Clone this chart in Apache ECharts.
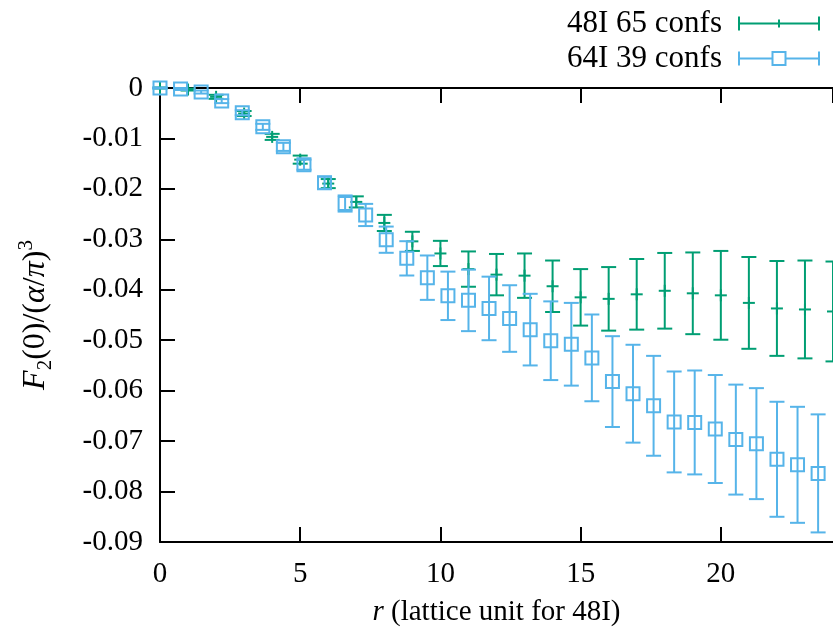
<!DOCTYPE html>
<html>
<head>
<meta charset="utf-8">
<script src="https://cdn.jsdelivr.net/npm/echarts@6/dist/echarts.min.js"></script>
<style>
html,body{margin:0;padding:0;background:#fff;}
#chart{width:833px;height:640px;}
</style>
</head>
<body>
<div id="chart"></div>
<script>
// ---- data ----
const seriesNames = ['48I 65 confs', '64I 39 confs'];

const x48 = [0,1,2,3,4,5,6,7,8,9,10,11,12,13,14,15,16,17,18,19,20,21,22,23,24];
const y48 = [0,-0.0003,-0.00175,-0.00506,-0.00969,-0.0142,-0.01895,-0.02258,-0.02675,-0.0304,
             -0.0328,-0.0359,-0.0370,-0.0372,-0.0393,-0.0415,-0.0418,-0.0409,-0.0402,-0.0407,
             -0.0411,-0.0426,-0.0437,-0.0439,-0.0443];
const e48 = [0.0001,0.0002,0.0004,0.0005,0.0006,0.0008,0.0009,0.0011,0.0016,0.0019,
             0.0025,0.0035,0.0041,0.0044,0.0051,0.0056,0.0063,0.0070,0.0075,0.0081,
             0.0088,0.0091,0.0094,0.0097,0.0099];

const x64 = [0,0.733,1.467,2.200,2.934,3.667,4.400,5.134,5.867,6.601,7.334,8.067,8.801,9.534,
             10.268,11.001,11.734,12.468,13.201,13.935,14.668,15.401,16.135,16.868,17.602,
             18.335,19.068,19.802,20.535,21.269,22.002,22.735,23.469];
const y64 = [0,-0.0002,-0.0008,-0.0026,-0.0049,-0.0077,-0.01167,-0.0152,-0.0188,-0.0229,
             -0.02517,-0.03007,-0.03377,-0.0376,-0.0412,-0.0421,-0.0437,-0.0457,-0.0479,-0.0501,
             -0.0508,-0.0535,-0.0582,-0.0606,-0.0630,-0.0662,-0.0663,-0.0676,-0.0697,-0.0705,
             -0.0736,-0.0747,-0.0764];
const e64 = [0.0001,0.0002,0.0003,0.0004,0.0005,0.0006,0.0008,0.0010,0.0012,0.0016,
             0.0022,0.0026,0.0034,0.0044,0.0048,0.0061,0.0063,0.0066,0.0071,0.0078,
             0.0082,0.0086,0.0090,0.0097,0.0099,0.0100,0.0103,0.0107,0.0109,0.0110,
             0.0114,0.0115,0.0117];

const xTicks = {min: 0, max: 24, interval: 5};
const yTicks = {min: -0.09, max: 0, interval: 0.01};

// ---- styling ----
const GREEN = '#009e73';
const BLUE = '#56b4e9';
const FONT = 'Liberation Serif';

function rows(xs, ys, es) { return xs.map((x, i) => [x, ys[i], es[i]]); }

function makeRender(color, marker) {
  return function (params, api) {
    const x = api.value(0), y = api.value(1), e = api.value(2);
    const p = api.coord([x, y]);
    const t = api.coord([x, y + e]);
    const b = api.coord([x, y - e]);
    const cw = 7.5;
    const st = {stroke: color, lineWidth: 2, fill: null};
    const children = [
      {type: 'line', shape: {x1: p[0], y1: t[1], x2: p[0], y2: b[1]}, style: st},
      {type: 'line', shape: {x1: p[0] - cw, y1: t[1], x2: p[0] + cw, y2: t[1]}, style: st},
      {type: 'line', shape: {x1: p[0] - cw, y1: b[1], x2: p[0] + cw, y2: b[1]}, style: st}
    ];
    if (marker === 'plus') {
      children.push({type: 'line', shape: {x1: p[0] - 6, y1: p[1], x2: p[0] + 6, y2: p[1]}, style: st});
      children.push({type: 'line', shape: {x1: p[0], y1: p[1] - 6, x2: p[0], y2: p[1] + 6}, style: st});
    } else {
      children.push({type: 'rect', shape: {x: p[0] - 6.5, y: p[1] - 6.5, width: 13, height: 13},
                     style: {stroke: color, lineWidth: 2, fill: 'rgba(0,0,0,0)'}});
    }
    return {type: 'group', children: children};
  };
}

const chart = echarts.init(document.getElementById('chart'), null, {renderer: 'canvas'});

const axisCommon = {
  axisLine: {show: true, onZero: false, lineStyle: {color: '#000', width: 2}},
  axisTick: {show: true, inside: true, length: 15, lineStyle: {color: '#000', width: 2}},
  splitLine: {show: false}
};

chart.setOption({
  animation: false,
  backgroundColor: '#fff',
  textStyle: {fontFamily: FONT},
  grid: {left: 160, top: 88, width: 677, height: 454, containLabel: false},
  legend: {
    show: true,
    orient: 'vertical',
    right: 8,
    top: 3,
    align: 'right',
    itemWidth: 80,
    itemHeight: 14,
    itemGap: 4,
    selectedMode: false,
    textStyle: {fontFamily: FONT, fontSize: 31, lineHeight: 31, color: '#000', padding: [0, 12, 0, 0]},
    data: [
      {name: seriesNames[0],
       icon: 'path://M0 0V14M0 7H80M80 0V14M40 3V11',
       itemStyle: {color: 'rgba(0,0,0,0)', borderColor: GREEN, borderWidth: 2}},
      {name: seriesNames[1],
       icon: 'path://M0 0V14M0 7H33.5M46.5 7H80M80 0V14M33.5 0.5H46.5V13.5H33.5Z',
       itemStyle: {color: 'rgba(0,0,0,0)', borderColor: BLUE, borderWidth: 2}}
    ]
  },
  xAxis: [
    Object.assign({}, axisCommon, {
      type: 'value', position: 'bottom',
      min: xTicks.min, max: xTicks.max, interval: xTicks.interval,
      axisLabel: {show: true, margin: 18, color: '#000', fontFamily: FONT, fontSize: 29,
                  showMaxLabel: false},
      name: '{i|r} (lattice unit for 48I)',
      nameLocation: 'middle',
      nameGap: 56,
      nameTextStyle: {color: '#000', fontFamily: FONT, fontSize: 29,
                      rich: {i: {fontStyle: 'italic', fontFamily: FONT, fontSize: 29}}}
    }),
    Object.assign({}, axisCommon, {
      type: 'value', position: 'top',
      min: xTicks.min, max: xTicks.max, interval: xTicks.interval,
      axisLabel: {show: false}
    })
  ],
  yAxis: [
    Object.assign({}, axisCommon, {
      type: 'value', position: 'left',
      min: yTicks.min, max: yTicks.max, interval: yTicks.interval,
      axisLabel: {show: true, margin: 17, color: '#000', fontFamily: FONT, fontSize: 29},
      name: '{i|F}{s|2}(0)/({i|α}/{i|π}){p|3}',
      nameLocation: 'middle',
      nameRotate: 90,
      nameGap: 124,
      nameTextStyle: {
        color: '#000', fontFamily: FONT, fontSize: 32, lineHeight: 40, verticalAlign: 'middle',
        rich: {
          i: {fontStyle: 'italic', fontFamily: FONT, fontSize: 32, lineHeight: 40, color: '#000'},
          s: {fontFamily: FONT, fontSize: 21, lineHeight: 21, verticalAlign: 'bottom', color: '#000'},
          p: {fontFamily: FONT, fontSize: 21, lineHeight: 21, verticalAlign: 'top', color: '#000'}
        }
      }
    })
  ],
  series: [
    {
      name: seriesNames[0],
      type: 'custom',
      xAxisIndex: 0, yAxisIndex: 0,
      itemStyle: {color: GREEN},
      renderItem: makeRender(GREEN, 'plus'),
      encode: {x: 0, y: 1},
      data: rows(x48, y48, e48),
      z: 2
    },
    {
      name: seriesNames[1],
      type: 'custom',
      xAxisIndex: 0, yAxisIndex: 0,
      itemStyle: {color: BLUE},
      renderItem: makeRender(BLUE, 'square'),
      encode: {x: 0, y: 1},
      data: rows(x64, y64, e64),
      z: 3
    }
  ]
});
</script>
</body>
</html>
